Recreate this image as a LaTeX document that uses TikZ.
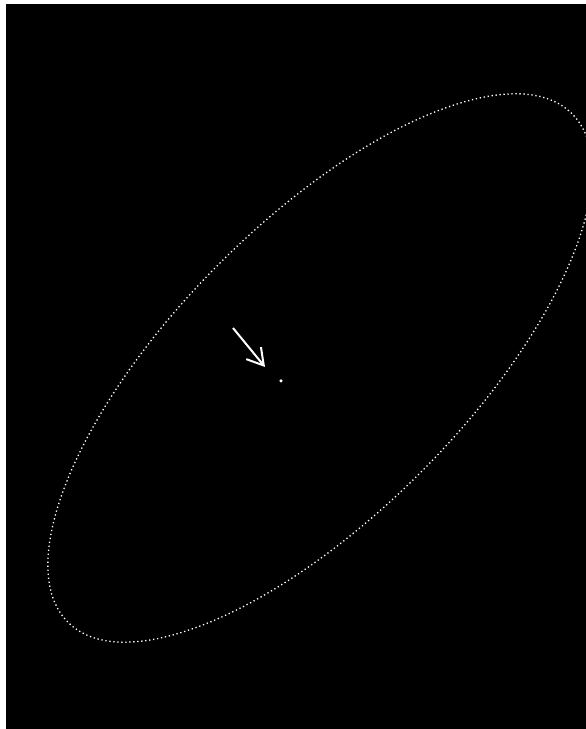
\documentclass[tikz,border=0pt]{standalone}
\usetikzlibrary{arrows.meta,positioning}
\begin{document}
\begin{tikzpicture}[x=1pt,y=1pt,
  ring/.style={white, line width=1.3pt, dash pattern=on 1.3pt off 2.7pt},
  pointer/.style={white, line width=2pt, -{Straight Barb[length=16pt,width=19pt,line width=2pt]}},
  spot/.style={circle, fill=white, inner sep=0pt, minimum size=3.5pt}]
  \useasboundingbox (0,0) rectangle (586,729);
  \fill[black] (6,0) rectangle (586,725);
  % dotted boundary
  \begin{scope}
    \clip (6,0) rectangle (586,725);
    \coordinate (c) at (320,361);
    \draw[ring, shift={(c)}, rotate=45.3] (0,0) ellipse [x radius=358, y radius=145];
  \end{scope}
  \node[spot] (dot) at (281,348) {};
  \coordinate (tail) at (233,401);
  \coordinate (tip) at (265,362);
  \draw[pointer] (tail) -- (tip);
\end{tikzpicture}
\end{document}
